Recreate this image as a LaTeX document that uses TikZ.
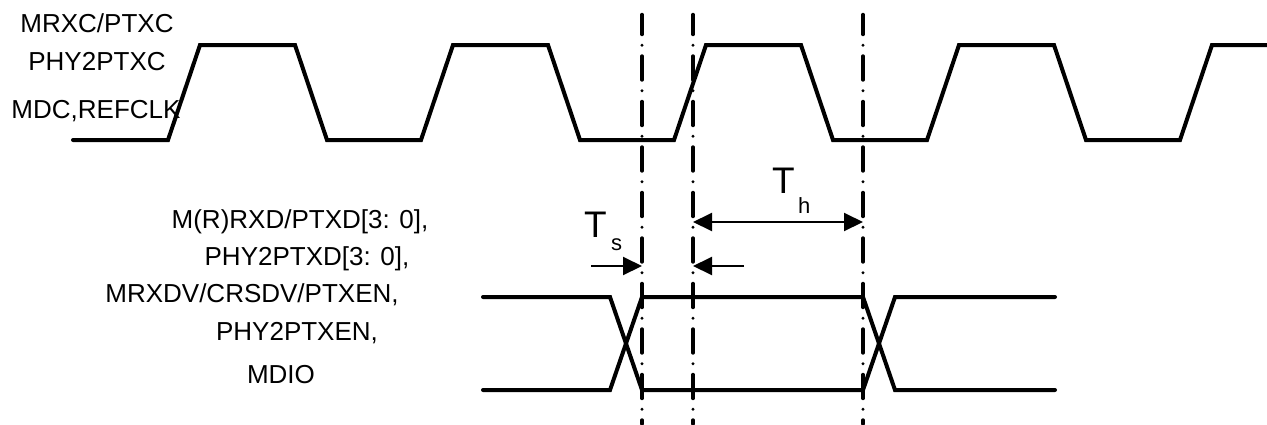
\documentclass[tikz,border=0pt]{standalone}
\usepackage{fontspec}
\setmainfont{Liberation Sans}
\usetikzlibrary{arrows.meta}
\begin{document}
\begin{tikzpicture}[x=1pt,y=-1pt,>={Triangle[length=19pt,width=18pt]},
	sig/.style={line width=4pt,line cap=round},
	guide/.style={line width=3.4pt,line cap=round,dash pattern=on 24pt off 10.75pt on 0pt off 10.75pt,dash phase=4pt},
	lbl/.style={font=\fontsize{26}{30}\selectfont,anchor=base,inner sep=0pt},
	tsym/.style={font=\fontsize{37}{40}\selectfont,anchor=base west,inner sep=0pt},
	tsub/.style={font=\fontsize{22}{26}\selectfont,anchor=base west,inner sep=0pt}]
		\useasboundingbox (0,0) rectangle (1267,424);
		% clock
		\draw[sig] (73,140)foreach \k in {0,...,3}{--({168+253*\k},140)--({200+253*\k},45)--({295+253*\k},45)--({327+253*\k},140)}--(1180,140)--(1212,45)--(1270,45);
		% data
		\draw[sig] (483,297)--(610,297)--(642,390)--(863,390)--(895,297)--(1055,297);
		\draw[sig] (483,390)--(610,390)--(642,297)--(863,297)--(895,390)--(1055,390);
		% guides
		\foreach \x in {642,693,863} \draw[guide] (\x,14.5)--(\x,424);
		% timing arrows
		\draw[<->,line width=2pt] (693,222)--(863,222);
		\draw[->,line width=2pt] (591,266)--(642,266);
		\draw[->,line width=2pt] (744,266)--(693,266);
		\node[tsym] (th) at (772,193) {T};
		\node[tsub] (thsub) at (798,213) {h};
		\node[tsym] (ts) at (584,237) {T};
		\node[tsub] (tssub) at (611,250) {s};
		% labels
		\node[lbl] (clk1) at (97,32) {MRXC/PTXC};
		\node[lbl] (clk2) at (97,70) {PHY2PTXC};
		\node[lbl] (clk3) at (96,118) {MDC,REFCLK};
		\node[lbl] (dat1) at (300,228) {M(R)RXD/PTXD[3: 0],};
		\node[lbl] (dat2) at (307,265) {PHY2PTXD[3: 0],};
		\node[lbl] (dat3) at (252,302) {MRXDV/CRSDV/PTXEN,};
		\node[lbl] (dat4) at (297,340) {PHY2PTXEN,};
		\node[lbl] (dat5) at (281,383) {MDIO};
		%\draw[ultra thin,cyan](0,0)grid[step=50](1267,424);
\end{tikzpicture}
\end{document}
